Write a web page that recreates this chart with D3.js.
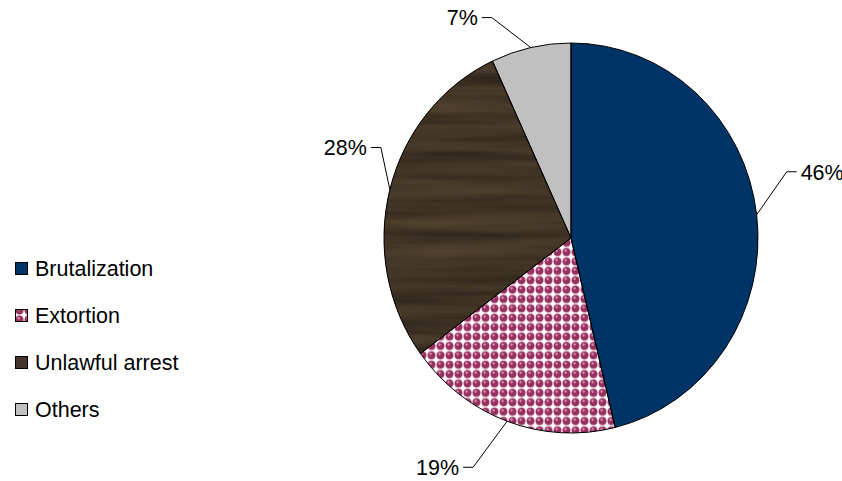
<!DOCTYPE html>
<html>
<head>
<meta charset="utf-8">
<title>Complaints pie</title>
<script src="https://d3js.org/d3.v7.min.js"></script>
<style>
  body { margin: 0; background: #fff; }
  svg text { font-family: "Liberation Sans", Arial, sans-serif; fill: #000; }
</style>
</head>
<body>
<div id="chart"></div>
<script>
// data
var categories = ["Brutalization", "Extortion", "Unlawful arrest", "Others"];
var shares = [46.2, 18.7, 28.2, 6.9];
var labels = ["46%", "19%", "28%", "7%"];

// layout
var width = 842, height = 481;
var cx = 571, cy = 238, rx = 187, ry = 195;
var fontSize = 21.5;
// elbow of each leader line, relative to where it leaves the slice
var elbow = [[30, -43], [-34, 46], [-9, -42], [-39, -30]];

var svg = d3.select("#chart").append("svg")
    .attr("width", width)
    .attr("height", height);

var defs = svg.append("defs");

// bead pattern for Extortion
var beads = defs.append("pattern")
    .attr("id", "beads")
    .attr("patternUnits", "userSpaceOnUse")
    .attr("width", 9).attr("height", 9);
beads.append("rect").attr("width", 9).attr("height", 9).attr("fill", "#fff");
beads.append("circle").attr("cx", 4.5).attr("cy", 4.5).attr("r", 4.3).attr("fill", "#d49ab8");
beads.append("circle").attr("cx", 4.5).attr("cy", 4.5).attr("r", 3.7).attr("fill", "#97315f");
beads.append("circle").attr("cx", 3.6).attr("cy", 3.2).attr("r", 1.2).attr("fill", "#d98fb4");

// wood grain for Unlawful arrest
var wood = defs.append("filter")
    .attr("id", "wood")
    .attr("color-interpolation-filters", "sRGB")
    .attr("x", 0).attr("y", 0).attr("width", 1).attr("height", 1);
wood.append("feTurbulence")
    .attr("type", "fractalNoise")
    .attr("baseFrequency", "0.004 0.09")
    .attr("numOctaves", 3)
    .attr("seed", 7);
wood.append("feColorMatrix")
    .attr("type", "matrix")
    .attr("values",
      "0.22 0 0 0 0.15 " +
      "0.18 0 0 0 0.12 " +
      "0.12 0 0 0 0.09 " +
      "0 0 0 0 1");

var fills = ["#003366", "url(#beads)", "#42342a", "#c0c0c0"];

var pie = d3.pie().sort(null).value(function(d) { return d; });
var arcs = pie(shares);

var arc = d3.arc().innerRadius(0).outerRadius(rx);

var g = svg.append("g")
    .attr("transform", "translate(" + cx + "," + cy + ") scale(1," + (ry / rx) + ")");

// clip for the wood texture
defs.append("clipPath").attr("id", "woodclip")
  .append("path")
    .attr("d", arc(arcs[2]));

g.selectAll("path.slice")
  .data(arcs)
  .enter().append("path")
    .attr("class", "slice")
    .attr("d", arc)
    .attr("fill", function(d, i) { return fills[i]; });

g.append("rect")
    .attr("x", -rx).attr("y", -rx)
    .attr("width", rx * 2).attr("height", rx * 2)
    .attr("filter", "url(#wood)")
    .attr("clip-path", "url(#woodclip)");

g.selectAll("path.edge")
  .data(arcs)
  .enter().append("path")
    .attr("class", "edge")
    .attr("d", arc)
    .attr("fill", "none")
    .attr("stroke", "#000")
    .attr("stroke-width", 1)
    .attr("vector-effect", "non-scaling-stroke");

// labels with leader lines
arcs.forEach(function(d, i) {
  var a = (d.startAngle + d.endAngle) / 2;
  var p0 = [cx + rx * Math.sin(a), cy - ry * Math.cos(a)];
  var p1 = [p0[0] + elbow[i][0], p0[1] + elbow[i][1]];
  var right = Math.sin(a) > 0;
  var p2 = [p1[0] + (right ? 10 : -10), p1[1]];
  svg.append("polyline")
      .attr("points", [p0, p1, p2].map(function(p) { return p.join(","); }).join(" "))
      .attr("fill", "none")
      .attr("stroke", "#000")
      .attr("stroke-width", 1);
  svg.append("text")
      .attr("x", p2[0] + (right ? 4 : -4))
      .attr("y", p2[1])
      .attr("dy", "0.36em")
      .attr("text-anchor", right ? "start" : "end")
      .style("font-size", fontSize + "px")
      .text(labels[i]);
});

// legend
var legend = svg.append("g").attr("transform", "translate(15,268)");
var rows = legend.selectAll("g")
  .data(categories)
  .enter().append("g")
    .attr("transform", function(d, i) { return "translate(0," + (i * 47) + ")"; });
rows.append("rect")
    .attr("x", 0.5).attr("y", -5.5)
    .attr("width", 12).attr("height", 12)
    .attr("fill", function(d, i) { return fills[i]; })
    .attr("stroke", "#000");
rows.append("text")
    .attr("x", 20)
    .attr("dy", "0.36em")
    .style("font-size", fontSize + "px")
    .text(function(d) { return d; });
</script>
</body>
</html>
